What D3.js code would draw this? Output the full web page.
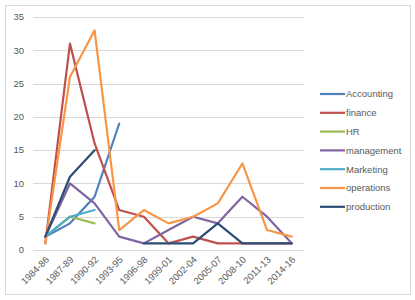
<!DOCTYPE html>
<html><head><meta charset="utf-8">
<script src="https://cdn.jsdelivr.net/npm/d3@7"></script>
<style>body{margin:0;background:#fff}svg{display:block}</style>
</head><body><div id="chart"></div>
<script>
const categories = ["1984-86","1987-89","1990-92","1993-95","1996-98","1999-01","2002-04","2005-07","2008-10","2011-13","2014-16"];
const seriesNames = ["Accounting","finance","HR","management","Marketing","operations","production"];
const accounting = [2,4,8,19,null,null,null,null,null,null,null];
const finance    = [1,31,16,6,5,1,2,1,1,1,1];
const hr         = [2,5,4,null,null,null,null,null,null,null,null];
const management = [2,10,7,2,1,3,5,4,8,5,1];
const marketing  = [2,5,6,null,null,null,null,null,null,null,null];
const operations = [1,26,33,3,6,4,5,7,13,3,2];
const production = [2,11,15,null,1,1,1,4,1,1,1];
const yTicks = [0,5,10,15,20,25,30,35];
const colors = ["#4F81BD","#C0504D","#9BBB59","#8064A2","#4BACC6","#F79646","#2C4D75"];

const series = [accounting,finance,hr,management,marketing,operations,production];
const W=415,H=300;
const svg=d3.select("#chart").append("svg").attr("width",W).attr("height",H);
svg.append("rect").attr("x",5.5).attr("y",5.5).attr("width",405).attr("height",289)
  .attr("fill","#fff").attr("stroke","#d9d9d9");

const x=d3.scaleBand().domain(categories).range([33,304]).padding(0);
const y=d3.scaleLinear().domain([0,35]).range([250,17]);
const font="'Liberation Sans', Arial, sans-serif";

const g=svg.append("g");
g.selectAll("line.grid").data(yTicks).join("line")
  .attr("x1",33).attr("x2",304)
  .attr("y1",d=>Math.round(y(d))+0.5).attr("y2",d=>Math.round(y(d))+0.5)
  .attr("stroke","#d9d9d9").attr("stroke-width",1);

g.selectAll("text.yl").data(yTicks).join("text")
  .attr("x",24).attr("y",d=>y(d)).attr("dy","0.35em")
  .attr("text-anchor","end").attr("font-family",font).attr("font-size",9.5)
  .attr("fill","#595959").text(d=>d);

g.selectAll("text.xl").data(categories).join("text")
  .attr("transform",d=>`translate(${x(d)+x.bandwidth()/2+2},${258}) rotate(-45)`)
  .attr("text-anchor","end").attr("dy","0.35em")
  .attr("font-family",font).attr("font-size",9.5).attr("fill","#595959").text(d=>d);

const line=d3.line().defined(d=>d!=null)
  .x((d,i)=>x(categories[i])+x.bandwidth()/2).y(d=>y(d));
series.forEach((s,k)=>{
  g.append("path").attr("d",line(s)).attr("fill","none")
   .attr("stroke",colors[k]).attr("stroke-width",2.2)
   .attr("stroke-linejoin","round").attr("stroke-linecap","round");
});

const lg=svg.append("g");
seriesNames.forEach((n,k)=>{
  const yy=94+k*18.8;
  lg.append("line").attr("x1",320).attr("x2",345).attr("y1",yy).attr("y2",yy)
    .attr("stroke",colors[k]).attr("stroke-width",2.2);
  lg.append("text").attr("x",346).attr("y",yy).attr("dy","0.35em")
    .attr("font-family",font).attr("font-size",9.5).attr("fill","#595959").text(n);
});
</script></body></html>
